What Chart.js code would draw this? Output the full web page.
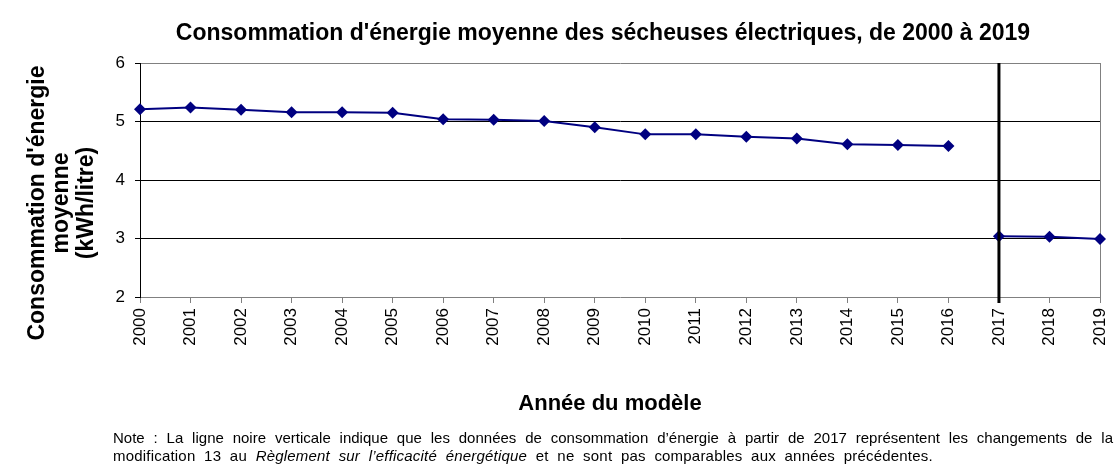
<!DOCTYPE html>
<html><head><meta charset="utf-8">
<script src="https://cdn.jsdelivr.net/npm/chart.js@4"></script>
<style>
html,body{margin:0;padding:0;background:#fff;}
#wrap{position:relative;width:1116px;height:465px;overflow:hidden;background:#fff;}
#c{position:absolute;left:0;top:0;}
.note{position:absolute;left:113px;width:1000px;font-family:"Liberation Sans",Arial,sans-serif;font-size:15px;color:#000;line-height:18px;}
#n1{top:429px;text-align:justify;text-align-last:justify;}
#n2{top:447px;white-space:nowrap;word-spacing:4.3px;letter-spacing:0.2px;}
</style></head><body>
<div id="wrap">
<canvas id="c" width="1116" height="465"></canvas>
<div class="note" id="n1">Note : La ligne noire verticale indique que les données de consommation d’énergie à partir de 2017 représentent les changements de la</div>
<div class="note" id="n2">modification 13 au <i>Règlement sur l’efficacité énergétique</i> et ne sont pas comparables aux années précédentes.</div>
</div>
<script>
const years = ['2000','2001','2002','2003','2004','2005','2006','2007','2008','2009','2010','2011','2012','2013','2014','2015','2016','2017','2018','2019'];
const consumptionBefore2017 = [5.21, 5.24, 5.20, 5.16, 5.16, 5.15, 5.04, 5.03, 5.01, 4.90, 4.78, 4.78, 4.74, 4.71, 4.61, 4.60, 4.58];
const consumptionFrom2017 = [3.04, 3.03, 2.99];
const yTickValues = [2, 3, 4, 5, 6];
const breakYear = '2017';
const chartTitle = "Consommation d'énergie moyenne des sécheuses électriques, de 2000 à 2019";
const yTitleLines = ["Consommation d'énergie", "moyenne", "(kWh/litre)"];
const xTitle = "Année du modèle";

const seriesBefore = years.map((y, i) => i < consumptionBefore2017.length ? consumptionBefore2017[i] : null);
const startFrom = years.length - consumptionFrom2017.length;
const seriesFrom = years.map((y, i) => i >= startFrom ? consumptionFrom2017[i - startFrom] : null);

const FONT = '"Liberation Sans", Arial, sans-serif';
Chart.defaults.font.family = FONT;
Chart.defaults.color = '#000';

const decor = {
  id: 'decor',
  beforeDatasetsDraw(chart) {
    const {ctx, chartArea: a} = chart;
    ctx.save();
    ctx.strokeStyle = '#808080';
    ctx.lineWidth = 1;
    const rx = Math.round(a.right) + 0.5;
    ctx.beginPath();
    ctx.moveTo(rx, a.top);
    ctx.lineTo(rx, a.bottom);
    ctx.stroke();
    ctx.restore();
  },
  afterDatasetsDraw(chart) {
    const {ctx, chartArea: a, scales: {x}} = chart;
    const bx = x.getPixelForValue(years.indexOf(breakYear));
    ctx.save();
    ctx.strokeStyle = '#000';
    ctx.lineWidth = 3;
    ctx.beginPath();
    ctx.moveTo(bx, a.top);
    ctx.lineTo(bx, a.bottom + 6);
    ctx.stroke();
    ctx.restore();
  },
  afterDraw(chart) {
    const {ctx} = chart;
    ctx.save();
    ctx.fillStyle = '#000';
    ctx.textAlign = 'center';
    ctx.textBaseline = 'alphabetic';
    ctx.font = 'bold 23px ' + FONT;
    ctx.fillText(chartTitle, 603, 40);
    ctx.font = 'bold 22px ' + FONT;
    ctx.fillText(xTitle, 610, 410);
    ctx.font = 'bold 23px ' + FONT;
    ctx.translate(0, 203);
    ctx.rotate(-Math.PI / 2);
    ctx.textBaseline = 'middle';
    const xs = [38, 62, 87];
    yTitleLines.forEach((t, i) => ctx.fillText(t, 0, xs[i]));
    ctx.restore();
  }
};

new Chart(document.getElementById('c'), {
  type: 'line',
  data: {
    labels: years,
    datasets: [
      {data: seriesBefore},
      {data: seriesFrom}
    ].map(d => Object.assign(d, {
      borderColor: '#000080',
      backgroundColor: '#000080',
      borderWidth: 2,
      pointStyle: 'rectRot',
      pointRadius: 6,
      pointHoverRadius: 6,
      pointBorderWidth: 0,
      pointBackgroundColor: '#000080',
      tension: 0,
      spanGaps: false,
      clip: false
    }))
  },
  options: {
    responsive: false,
    animation: false,
    events: [],
    layout: {padding: {top: 63, left: 0, right: 16, bottom: 50}},
    plugins: {legend: {display: false}, title: {display: false}, tooltip: {enabled: false}},
    scales: {
      x: {
        type: 'category',
        offset: false,
        grid: {drawOnChartArea: false, drawTicks: true, tickLength: 6, color: '#808080', tickColor: '#808080'},
        border: {color: '#808080', width: 1},
        ticks: {autoSkip: false, minRotation: 90, maxRotation: 90, padding: 5, color: '#000', font: {size: 17}},
        afterFit(s) { s.height = 118; s.paddingLeft = 0; s.paddingRight = 0; }
      },
      y: {
        min: 2, max: 6,
        afterBuildTicks(s) { s.ticks = yTickValues.map(v => ({value: v})); },
        ticks: {padding: 10, color: '#000', font: {size: 17}},
        grid: {
          color: c => c.tick.value === 6 ? '#808080' : (c.tick.value === 2 ? 'rgba(0,0,0,0)' : '#000'),
          tickColor: '#000', tickLength: 5, lineWidth: 1
        },
        border: {color: '#000', width: 1},
        afterFit(s) { s.width = 140; s.paddingTop = 0; s.paddingBottom = 0; }
      }
    }
  },
  plugins: [decor]
});
</script>
</body></html>
